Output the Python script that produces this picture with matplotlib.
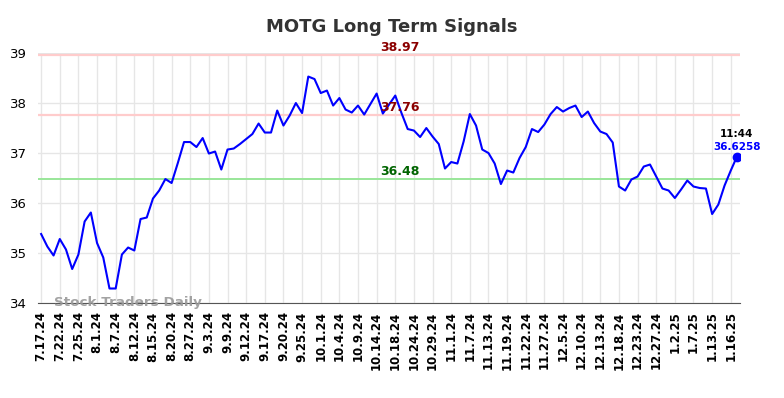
import matplotlib
matplotlib.use('Agg')
import matplotlib.pyplot as plt

# MOTG long term signals chart

tick_labels = ['7.17.24', '7.22.24', '7.25.24', '8.1.24', '8.7.24', '8.12.24', '8.15.24',
               '8.20.24', '8.27.24', '9.3.24', '9.9.24', '9.12.24', '9.17.24', '9.20.24',
               '9.25.24', '10.1.24', '10.4.24', '10.9.24', '10.14.24', '10.18.24',
               '10.24.24', '10.29.24', '11.1.24', '11.7.24', '11.13.24', '11.19.24',
               '11.22.24', '11.27.24', '12.5.24', '12.10.24', '12.13.24', '12.18.24',
               '12.23.24', '12.27.24', '1.2.25', '1.7.25', '1.13.25', '1.16.25']
tick_step = 3

prices = [35.38, 35.13, 34.95, 35.28, 35.07, 34.68, 34.97, 35.63, 35.81, 35.20,
          34.91, 34.29, 34.29, 34.97, 35.11, 35.05, 35.68, 35.71, 36.09, 36.25,
          36.48, 36.40, 36.80, 37.22, 37.22, 37.12, 37.30, 36.99, 37.03, 36.67,
          37.07, 37.09, 37.18, 37.28, 37.38, 37.59, 37.41, 37.41, 37.85, 37.55,
          37.75, 38.00, 37.80, 38.53, 38.48, 38.20, 38.25, 37.95, 38.10, 37.87,
          37.81, 37.95, 37.77, 37.98, 38.19, 37.79, 37.97, 38.15, 37.80, 37.48,
          37.45, 37.32, 37.50, 37.33, 37.18, 36.69, 36.82, 36.79, 37.23, 37.78,
          37.55, 37.07, 37.00, 36.79, 36.38, 36.65, 36.61, 36.90, 37.12, 37.48,
          37.42, 37.57, 37.78, 37.92, 37.83, 37.90, 37.95, 37.72, 37.83, 37.60,
          37.43, 37.38, 37.21, 36.33, 36.25, 36.47, 36.53, 36.73, 36.77, 36.53,
          36.29, 36.25, 36.10, 36.27, 36.45, 36.33, 36.30, 36.29, 35.78, 35.97,
          36.35, 36.65, 36.93]

upper_level = 38.97
mid_level = 37.76
lower_level = 36.48
last_time = '11:44'
last_value = '36.6258'

fig = plt.figure(figsize=(7.84, 3.98), dpi=100)
ax = fig.add_axes([0.0485, 0.2387, 0.8955, 0.628])

x = list(range(len(prices)))

# signal lines
ax.axhline(upper_level, color='#ffcccc', lw=1.6, zorder=1)
ax.axhline(mid_level, color='#ffcccc', lw=1.6, zorder=1)
ax.axhline(lower_level, color='#99e699', lw=1.4, zorder=1)

ax.plot(x, prices, color='#0000ff', lw=1.5, zorder=3)
ax.plot(x[-1], prices[-1], 'o', color='#0000ff', ms=6, zorder=4)

mid_x = 57.7
ax.text(mid_x, upper_level + 0.02, f'{upper_level:.2f}', color='#8b0000', fontsize=9,
        fontweight='bold', ha='center', va='bottom')
ax.text(mid_x, mid_level + 0.02, f'{mid_level:.2f}', color='#8b0000', fontsize=9,
        fontweight='bold', ha='center', va='bottom')
ax.text(mid_x, lower_level + 0.02, f'{lower_level:.2f}', color='#006400', fontsize=9,
        fontweight='bold', ha='center', va='bottom')

# last value label
ax.text(x[-1], prices[-1] + 0.36, last_time, color='black', fontsize=7.5,
        fontweight='bold', ha='center', va='bottom')
ax.text(x[-1], prices[-1] + 0.1, last_value, color='#0000ff', fontsize=7.5,
        fontweight='bold', ha='center', va='bottom')

ax.text(2, 34.0, 'Stock Traders Daily', color='#999999', fontsize=9.7,
        fontweight='bold', ha='left', va='center', alpha=0.9)

ax.set_xlim(-0.5, len(prices) - 0.5)
ax.set_ylim(34, 39)
ax.set_yticks([34, 35, 36, 37, 38, 39])
ax.set_xticks(list(range(0, len(tick_labels) * tick_step, tick_step)))
ax.set_xticklabels(tick_labels, rotation=90, fontsize=8.5, fontweight='bold')
ax.tick_params(axis='y', labelsize=9.5, length=0, pad=8)
ax.tick_params(axis='x', length=0, pad=6)

ax.grid(True, color='#e6e6e6', lw=1)
ax.set_axisbelow(True)
for side in ['top', 'right', 'left']:
    ax.spines[side].set_visible(False)
ax.spines['bottom'].set_color('#555555')

fig.suptitle('MOTG Long Term Signals', x=0.5, y=0.955, fontsize=13,
             fontweight='bold', color='#333333')

fig.savefig('out.png', dpi=100)
